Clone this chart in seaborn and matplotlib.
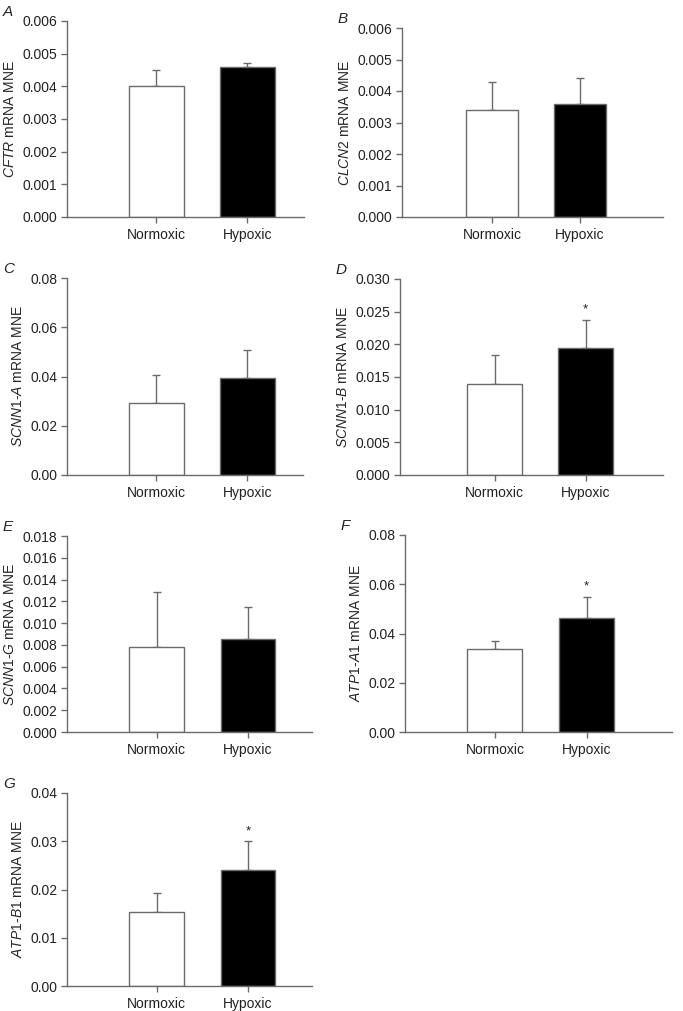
import matplotlib
matplotlib.use("Agg")
import matplotlib.pyplot as plt
import seaborn as sns
import pandas as pd

# data (mean and upper SEM)
conditions = ["Normoxic", "Hypoxic"]
panel_letters = ["A", "B", "C", "D", "E", "F", "G"]
genes = ["CFTR", "CLCN2", "SCNN1-A", "SCNN1-B", "SCNN1-G", "ATP1-A1", "ATP1-B1"]
means = [
    [0.0040, 0.0046],
    [0.0034, 0.0036],
    [0.0293, 0.0395],
    [0.0140, 0.0194],
    [0.0078, 0.0085],
    [0.0336, 0.0462],
    [0.0153, 0.0241],
]
errors = [
    [0.0005, 0.0001],
    [0.0009, 0.0008],
    [0.0115, 0.0112],
    [0.0043, 0.0044],
    [0.0051, 0.0030],
    [0.0034, 0.0088],
    [0.0039, 0.0059],
]
significant = [False, False, False, True, False, True, True]
y_max = [0.006, 0.006, 0.08, 0.03, 0.018, 0.08, 0.04]
y_step = [0.001, 0.001, 0.02, 0.005, 0.002, 0.02, 0.01]
y_fmt = ["%.3f", "%.3f", "%.2f", "%.3f", "%.3f", "%.2f", "%.2f"]

# axes boxes in pixels: left, right, top, bottom
boxes = [
    (67, 304, 21, 217),
    (402, 663, 28, 217),
    (67, 303, 278, 475),
    (400, 663, 279, 475),
    (67, 312, 536, 732),
    (405, 672, 535, 732),
    (67, 312, 793, 986),
]
x_limits = [(-0.98, 1.62), (-1.03, 1.95), (-0.98, 1.61), (-1.04, 1.85),
            (-0.98, 1.70), (-0.98, 1.93), (-0.98, 1.70)]

sns.set_style("white")
plt.rcParams["font.family"] = ["Liberation Sans", "DejaVu Sans"]
plt.rcParams["mathtext.fontset"] = "custom"
plt.rcParams["mathtext.rm"] = "Liberation Sans"
plt.rcParams["mathtext.it"] = "Liberation Sans:italic"

W, H = 683, 1011
fig = plt.figure(figsize=(W / 100, H / 100), dpi=100)
grey = "#6b6b6b"
palette = {"Normoxic": "white", "Hypoxic": "black"}


def gene_label(g):
    parts = g.split("-")
    txt = "-".join(r"$\it{%s}$" % p for p in parts)
    return txt + " mRNA MNE"


for i in range(7):
    l, r, t, b = boxes[i]
    ax = fig.add_axes([l / W, 1 - b / H, (r - l) / W, (b - t) / H])
    df = pd.DataFrame({"condition": conditions, "value": means[i]})
    sns.barplot(data=df, x="condition", y="value", hue="condition",
                palette=palette, order=conditions, width=0.6,
                edgecolor=grey, linewidth=1.0, legend=False, ax=ax)
    ax.errorbar([0, 1], means[i], yerr=[[0, 0], errors[i]], fmt="none",
                ecolor=grey, elinewidth=1.0, capsize=3, capthick=1.0, zorder=1)
    for p in ax.patches:
        p.set_zorder(2)
    if significant[i]:
        top = means[i][1] + errors[i][1]
        ax.text(1, top + y_max[i] * 0.02, "*", ha="center", va="bottom",
                fontsize=9.5, color="#222222")

    ax.set_xlim(*x_limits[i])
    ax.set_ylim(0, y_max[i])
    n = int(round(y_max[i] / y_step[i]))
    ticks = [k * y_step[i] for k in range(n + 1)]
    ax.set_yticks(ticks)
    ax.set_yticklabels([y_fmt[i] % v for v in ticks])
    ax.set_xlabel("")
    ax.set_ylabel(gene_label(genes[i]), fontsize=10, labelpad=4)
    sns.despine(ax=ax)
    for s in ["left", "bottom"]:
        ax.spines[s].set_color(grey)
        ax.spines[s].set_linewidth(1.0)
    ax.tick_params(axis="both", which="both", direction="out", length=4,
                   width=1.0, color=grey, labelsize=10, labelcolor="#222222",
                   left=True, bottom=True, pad=3)
    ax.tick_params(axis="x", pad=4)
    fig.text((l - 64) / W, 1 - (t - 9) / H, panel_letters[i], fontsize=11,
             fontstyle="italic", ha="left", va="center")

fig.savefig("out.png", dpi=100)
